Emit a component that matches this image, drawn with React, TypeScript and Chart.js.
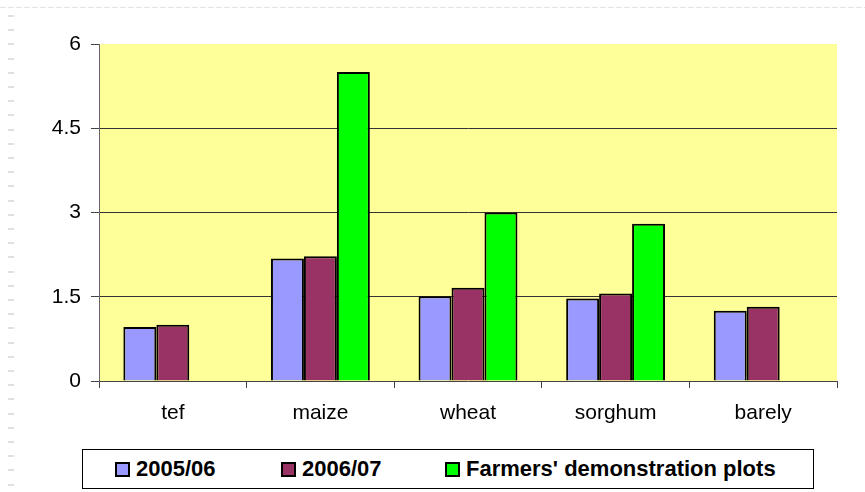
import React, { useEffect, useRef } from "react";
import { Chart, registerables } from "chart.js";

Chart.register(...registerables);

const categories = ["tef", "maize", "wheat", "sorghum", "barely"];
const seriesNames = ["2005/06", "2006/07", "Farmers' demonstration plots"];
const yield0506 = [0.96, 2.18, 1.51, 1.47, 1.25];
const yield0607 = [1.0, 2.22, 1.66, 1.56, 1.32];
const demoPlots: (number | null)[] = [null, 5.5, 3.0, 2.8, null];
const yTicks = [0, 1.5, 3, 4.5, 6];
const colors = ["#9999FF", "#993366", "#00FF00"];

const FONT = "'Liberation Sans', Arial, sans-serif";

export default function App() {
  const ref = useRef<HTMLCanvasElement | null>(null);

  useEffect(() => {
    document.body.style.margin = "0";
    const bgPlugin = {
      id: "bg",
      beforeDraw(chart: any) {
        const { ctx, chartArea } = chart;
        ctx.save();
        ctx.strokeStyle = "#e4e4e4";
        ctx.lineWidth = 1;
        ctx.setLineDash([6, 2]);
        ctx.beginPath();
        ctx.moveTo(0, 7.5);
        ctx.lineTo(chart.width, 7.5);
        ctx.stroke();
        ctx.setLineDash([]);
        ctx.fillStyle = "#e0e0e0";
        for (let y = 15; y < chart.height; y += 14.2) {
          ctx.fillRect(8, Math.round(y), 6, 2);
        }
        ctx.fillStyle = "#FFFF99";
        ctx.fillRect(chartArea.left, chartArea.top, chartArea.right - chartArea.left, chartArea.bottom - chartArea.top);
        ctx.restore();
      },
    };

    const data = [yield0506, yield0607, demoPlots];
    const chart = new Chart(ref.current as HTMLCanvasElement, {
      type: "bar",
      data: {
        labels: categories,
        datasets: seriesNames.map((name, i) => ({
          label: name,
          data: data[i] as any,
          backgroundColor: colors[i],
          borderColor: "#000",
          borderWidth: 2,
          borderSkipped: "bottom" as any,
          categoryPercentage: 0.67,
          barPercentage: 1,
        })),
      },
      options: {
        animation: false,
        responsive: false,
        maintainAspectRatio: false,
        layout: { padding: { left: 0, top: 44, right: 28, bottom: 0 } },
        plugins: {
          legend: { display: false },
          title: { display: false },
          tooltip: { enabled: false },
        },
        scales: {
          x: {
            afterFit(scale: any) {
              scale.height = 111;
            },
            grid: {
              drawOnChartArea: false,
              drawTicks: true,
              tickLength: 7,
              tickColor: "#444",
              offset: true,
            },
            border: { display: true, color: "#444", width: 1 },
            ticks: {
              font: { family: FONT, size: 21 },
              color: "#000",
              padding: 13,
            },
          },
          y: {
            min: 0,
            max: 6,
            afterFit(scale: any) {
              scale.width = 99;
            },
            afterBuildTicks(scale: any) {
              scale.ticks = yTicks.map((v) => ({ value: v }));
            },
            grid: {
              color: (c: any) => (c.tick && (c.tick.value === 0 || c.tick.value === 6) ? "rgba(0,0,0,0)" : "#333"),
              lineWidth: 1,
              tickLength: 8,
              tickColor: "#444",
            },
            border: { display: true, color: "#666", width: 1 },
            ticks: {
              font: { family: FONT, size: 21 },
              color: "#000",
              padding: 10,
              callback: (v: any) => String(v),
            },
          },
        },
      },
      plugins: [bgPlugin],
    });
    return () => chart.destroy();
  }, []);

  const legendPos = [32, 198, 362];

  return (
    <div style={{ position: "fixed", left: 0, top: 0, width: 865, height: 492, background: "#fff" }}>
      <canvas ref={ref} width={865} height={492} style={{ width: 865, height: 492, display: "block" }} />
      <div
        style={{
          position: "absolute",
          left: 82,
          top: 449,
          width: 730,
          height: 38,
          border: "1px solid #000",
          background: "#fff",
          fontFamily: FONT,
          fontWeight: "bold",
          fontSize: 22,
        }}
      >
        {seriesNames.map((name, i) => (
          <div
            key={name}
            style={{ position: "absolute", left: legendPos[i], top: 0, height: 38, display: "flex", alignItems: "center" }}
          >
            <span
              style={{
                display: "inline-block",
                boxSizing: "border-box",
                width: 15,
                height: 15,
                background: colors[i],
                border: "2px solid #000",
                marginRight: 6,
              }}
            />
            <span>{name}</span>
          </div>
        ))}
      </div>
    </div>
  );
}
